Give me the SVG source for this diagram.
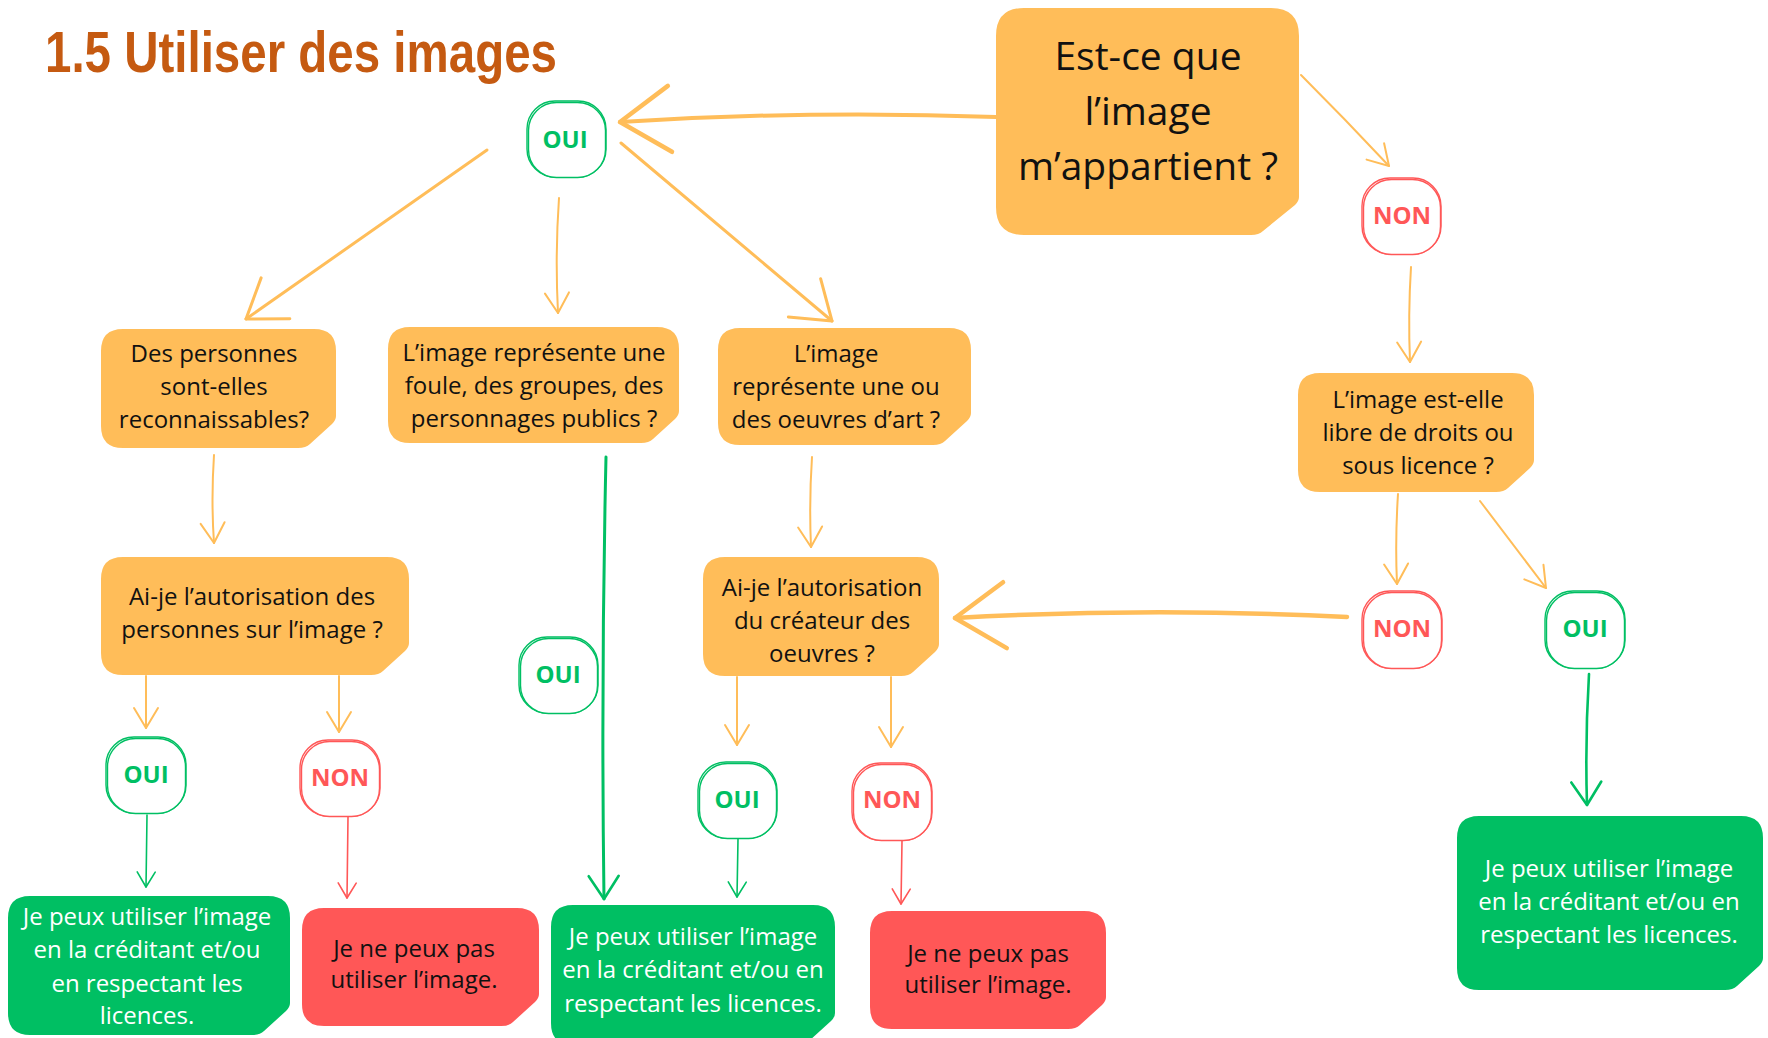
<svg xmlns="http://www.w3.org/2000/svg" width="1768" height="1038" viewBox="0 0 1768 1038">
<style>
.box-o{fill:#FFBD59}
.box-g{fill:#00BF63}
.box-r{fill:#FF5757}
.t{font-family:"Open Sans","Noto Sans","Liberation Sans",sans-serif;font-size:24px;text-anchor:middle;fill:#111}
.tw{fill:#ffffff}
.big{font-size:39px}
.lbl{font-family:"Open Sans","Noto Sans","Liberation Sans",sans-serif;font-size:24px;font-weight:700;text-anchor:middle}
.ng rect{fill:#fff;stroke:#00BF63;stroke-width:1.4}
.nr rect{fill:#fff;stroke:#FF5757;stroke-width:1.4}
.ng text{fill:#00BF63}
.nr text{fill:#FF5757}
.c{fill:none;stroke-linecap:round;stroke-linejoin:round}
.co{stroke:#FFBD59}
.cg{stroke:#00BF63}
.cr{stroke:#FF5757}
.title{font-family:"Liberation Sans Narrow","Liberation Sans",Arial,sans-serif;font-weight:700;font-size:58px;fill:#C55A11}
</style>
<defs>
<marker id="os" markerUnits="userSpaceOnUse" viewBox="-60 -40 70 80" markerWidth="70" markerHeight="80" refX="0" refY="0" orient="auto" overflow="visible"><path d="M-20,-12 L0,0 L-20,12" fill="none" stroke="#FFBD59" stroke-width="2" stroke-linecap="round" stroke-linejoin="round"/></marker>
<marker id="om" markerUnits="userSpaceOnUse" viewBox="-60 -40 70 80" markerWidth="70" markerHeight="80" refX="0" refY="0" orient="auto" overflow="visible"><path d="M-36,-25 L0,0 L-36,25" fill="none" stroke="#FFBD59" stroke-width="3" stroke-linecap="round" stroke-linejoin="round"/></marker>
<marker id="ol" markerUnits="userSpaceOnUse" viewBox="-60 -40 70 80" markerWidth="70" markerHeight="80" refX="0" refY="0" orient="auto" overflow="visible"><path d="M-50,-33 L0,0 L-50,33" fill="none" stroke="#FFBD59" stroke-width="4.5" stroke-linecap="round" stroke-linejoin="round"/></marker>
<marker id="gs" markerUnits="userSpaceOnUse" viewBox="-60 -40 70 80" markerWidth="70" markerHeight="80" refX="0" refY="0" orient="auto" overflow="visible"><path d="M-15,-9 L0,0 L-15,9" fill="none" stroke="#00BF63" stroke-width="1.6" stroke-linecap="round" stroke-linejoin="round"/></marker>
<marker id="gm" markerUnits="userSpaceOnUse" viewBox="-60 -40 70 80" markerWidth="70" markerHeight="80" refX="0" refY="0" orient="auto" overflow="visible"><path d="M-23,-15 L0,0 L-23,15" fill="none" stroke="#00BF63" stroke-width="2.6" stroke-linecap="round" stroke-linejoin="round"/></marker>
<marker id="rs" markerUnits="userSpaceOnUse" viewBox="-60 -40 70 80" markerWidth="70" markerHeight="80" refX="0" refY="0" orient="auto" overflow="visible"><path d="M-15,-9 L0,0 L-15,9" fill="none" stroke="#FF5757" stroke-width="1.6" stroke-linecap="round" stroke-linejoin="round"/></marker>
</defs>

<text class="title" x="45" y="72" textLength="512" lengthAdjust="spacingAndGlyphs">1.5 Utiliser des images</text>

<g id="connectors">
<path class="c co" stroke-width="4" d="M996,117 Q810,110 620,122" marker-end="url(#ol)"/>
<path class="c co" stroke-width="2" d="M1301,75 Q1345,119 1389,166" marker-end="url(#os)"/>
<path class="c co" stroke-width="3" d="M487,150 L246,319" marker-end="url(#om)"/>
<path class="c co" stroke-width="2" d="M559,198 Q555,255 558,313" marker-end="url(#os)"/>
<path class="c co" stroke-width="3" d="M621,143 L832,321" marker-end="url(#om)"/>
<path class="c co" stroke-width="2" d="M1411,267 Q1408,315 1410,362" marker-end="url(#os)"/>
<path class="c co" stroke-width="2" d="M214,455 Q211,500 214,543" marker-end="url(#os)"/>
<path class="c co" stroke-width="2" d="M812,457 Q809,502 811,547" marker-end="url(#os)"/>
<path class="c co" stroke-width="2" d="M1398,494 Q1395,540 1397,584" marker-end="url(#os)"/>
<path class="c co" stroke-width="2" d="M1480,501 L1546,588" marker-end="url(#os)"/>
<path class="c co" stroke-width="4.5" d="M1347,617 Q1150,607 955,618" marker-end="url(#ol)"/>
<path class="c co" stroke-width="2" d="M146,676 L146,728" marker-end="url(#os)"/>
<path class="c co" stroke-width="2" d="M339,676 L339,732" marker-end="url(#os)"/>
<path class="c co" stroke-width="2" d="M737,677 L737,745" marker-end="url(#os)"/>
<path class="c co" stroke-width="2" d="M891,677 L891,747" marker-end="url(#os)"/>
<path class="c cg" stroke-width="3" d="M606,457 Q601,680 604,899" marker-end="url(#gm)"/>
<path class="c cg" stroke-width="1.6" d="M147,815 L146,887" marker-end="url(#gs)"/>
<path class="c cr" stroke-width="1.6" d="M348,817 L347,898" marker-end="url(#rs)"/>
<path class="c cg" stroke-width="1.6" d="M738,839 L737,897" marker-end="url(#gs)"/>
<path class="c cr" stroke-width="1.6" d="M902,841 L901,904" marker-end="url(#rs)"/>
<path class="c cg" stroke-width="2.6" d="M1589,674 Q1585,740 1587,805" marker-end="url(#gm)"/>
</g>

<g id="q-main">
<path class="box-o" d="M1024,8 H1271 Q1299,8 1299,36 V197 Q1299,201 1295,205 L1263,231 Q1259,235 1251,235 H1024 Q996,235 996,207 V36 Q996,8 1024,8 Z"/>
<text class="t big" x="1148" y="70">Est-ce que</text>
<text class="t big" x="1148" y="125">l’image</text>
<text class="t big" x="1148" y="180">m’appartient ?</text>
</g>

<g id="q-personnes">
<path class="box-o" d="M123,329 H314 Q336,329 336,351 V416 Q336,420 332,424 L310,444 Q306,448 298,448 H123 Q101,448 101,426 V351 Q101,329 123,329 Z"/>
<text class="t" x="214" y="362">Des personnes</text>
<text class="t" x="214" y="395">sont-elles</text>
<text class="t" x="214" y="428">reconnaissables?</text>
</g>

<g id="q-foule">
<path class="box-o" d="M410,327 H657 Q679,327 679,349 V411 Q679,415 675,419 L653,439 Q649,443 641,443 H410 Q388,443 388,421 V349 Q388,327 410,327 Z"/>
<text class="t" x="534" y="361">L’image représente une</text>
<text class="t" x="534" y="394">foule, des groupes, des</text>
<text class="t" x="534" y="427">personnages publics ?</text>
</g>

<g id="q-oeuvres">
<path class="box-o" d="M740,328 H949 Q971,328 971,350 V413 Q971,417 967,421 L945,441 Q941,445 933,445 H740 Q718,445 718,423 V350 Q718,328 740,328 Z"/>
<text class="t" x="836" y="362">L’image</text>
<text class="t" x="836" y="395">représente une ou</text>
<text class="t" x="836" y="428">des oeuvres d’art ?</text>
</g>

<g id="q-libre">
<path class="box-o" d="M1320,373 H1512 Q1534,373 1534,395 V460 Q1534,464 1530,468 L1508,488 Q1504,492 1496,492 H1320 Q1298,492 1298,470 V395 Q1298,373 1320,373 Z"/>
<text class="t" x="1418" y="408">L’image est-elle</text>
<text class="t" x="1418" y="441">libre de droits ou</text>
<text class="t" x="1418" y="474">sous licence ?</text>
</g>

<g id="q-auto-personnes">
<path class="box-o" d="M123,557 H387 Q409,557 409,579 V643 Q409,647 405,651 L383,671 Q379,675 371,675 H123 Q101,675 101,653 V579 Q101,557 123,557 Z"/>
<text class="t" x="252" y="605">Ai-je l’autorisation des</text>
<text class="t" x="252" y="638">personnes sur l’image ?</text>
</g>

<g id="q-auto-createur">
<path class="box-o" d="M725,557 H917 Q939,557 939,579 V644 Q939,648 935,652 L913,672 Q909,676 901,676 H725 Q703,676 703,654 V579 Q703,557 725,557 Z"/>
<text class="t" x="822" y="596">Ai-je l’autorisation</text>
<text class="t" x="822" y="629">du créateur des</text>
<text class="t" x="822" y="662">oeuvres ?</text>
</g>

<g id="n-oui-top" class="ng">
<rect x="527" y="101" width="79" height="76" rx="28"/>
<rect x="528.5" y="102.5" width="77" height="75" rx="28" fill="none" stroke-width="1"/>
<text class="lbl" x="565" y="148">OUI</text>
</g>
<g id="n-non-top" class="nr">
<rect x="1362" y="178" width="79" height="76" rx="28"/>
<rect x="1363.5" y="179.5" width="77" height="75" rx="28" fill="none" stroke-width="1"/>
<text class="lbl" x="1402" y="224">NON</text>
</g>
<g id="n-oui-foule" class="ng">
<rect x="519" y="637" width="79" height="76" rx="28"/>
<rect x="520.5" y="638.5" width="77" height="75" rx="28" fill="none" stroke-width="1"/>
<text class="lbl" x="558" y="683">OUI</text>
</g>
<g id="n-non-libre" class="nr">
<rect x="1362" y="591" width="80" height="77" rx="28"/>
<rect x="1363.5" y="592.5" width="78" height="76" rx="28" fill="none" stroke-width="1"/>
<text class="lbl" x="1402" y="637">NON</text>
</g>
<g id="n-oui-libre" class="ng">
<rect x="1545" y="591" width="80" height="77" rx="28"/>
<rect x="1546.5" y="592.5" width="78" height="76" rx="28" fill="none" stroke-width="1"/>
<text class="lbl" x="1585" y="637">OUI</text>
</g>
<g id="n-oui-personnes" class="ng">
<rect x="106" y="737" width="80" height="76" rx="28"/>
<rect x="107.5" y="738.5" width="78" height="75" rx="28" fill="none" stroke-width="1"/>
<text class="lbl" x="146" y="783">OUI</text>
</g>
<g id="n-non-personnes" class="nr">
<rect x="300" y="740" width="80" height="76" rx="28"/>
<rect x="301.5" y="741.5" width="78" height="75" rx="28" fill="none" stroke-width="1"/>
<text class="lbl" x="340" y="786">NON</text>
</g>
<g id="n-oui-createur" class="ng">
<rect x="698" y="762" width="79" height="76" rx="28"/>
<rect x="699.5" y="763.5" width="77" height="75" rx="28" fill="none" stroke-width="1"/>
<text class="lbl" x="737" y="808">OUI</text>
</g>
<g id="n-non-createur" class="nr">
<rect x="852" y="763" width="80" height="77" rx="28"/>
<rect x="853.5" y="764.5" width="78" height="76" rx="28" fill="none" stroke-width="1"/>
<text class="lbl" x="892" y="808">NON</text>
</g>

<g id="r-oui-personnes">
<path class="box-g" d="M30,896 H268 Q290,896 290,918 V1003 Q290,1007 286,1011 L264,1031 Q260,1035 252,1035 H30 Q8,1035 8,1013 V918 Q8,896 30,896 Z"/>
<text class="t tw" x="147" y="925">Je peux utiliser l’image</text>
<text class="t tw" x="147" y="958">en la créditant et/ou</text>
<text class="t tw" x="147" y="992">en respectant les</text>
<text class="t tw" x="147" y="1024">licences.</text>
</g>
<g id="r-non-personnes">
<path class="box-r" d="M324,908 H517 Q539,908 539,930 V994 Q539,998 535,1002 L513,1022 Q509,1026 501,1026 H324 Q302,1026 302,1004 V930 Q302,908 324,908 Z"/>
<text class="t" x="414" y="957">Je ne peux pas</text>
<text class="t" x="414" y="988">utiliser l’image.</text>
</g>
<g id="r-oui-mid">
<path class="box-g" d="M573,905 H813 Q835,905 835,927 V1013 Q835,1017 831,1021 L809,1041 Q805,1045 797,1045 H573 Q551,1045 551,1023 V927 Q551,905 573,905 Z"/>
<text class="t tw" x="693" y="945">Je peux utiliser l’image</text>
<text class="t tw" x="693" y="978">en la créditant et/ou en</text>
<text class="t tw" x="693" y="1012">respectant les licences.</text>
</g>
<g id="r-non-createur">
<path class="box-r" d="M892,911 H1084 Q1106,911 1106,933 V997 Q1106,1001 1102,1005 L1080,1025 Q1076,1029 1068,1029 H892 Q870,1029 870,1007 V933 Q870,911 892,911 Z"/>
<text class="t" x="988" y="962">Je ne peux pas</text>
<text class="t" x="988" y="993">utiliser l’image.</text>
</g>
<g id="r-oui-libre">
<path class="box-g" d="M1479,816 H1741 Q1763,816 1763,838 V958 Q1763,962 1759,966 L1737,986 Q1733,990 1725,990 H1479 Q1457,990 1457,968 V838 Q1457,816 1479,816 Z"/>
<text class="t tw" x="1609" y="877">Je peux utiliser l’image</text>
<text class="t tw" x="1609" y="910">en la créditant et/ou en</text>
<text class="t tw" x="1609" y="943">respectant les licences.</text>
</g>
</svg>
